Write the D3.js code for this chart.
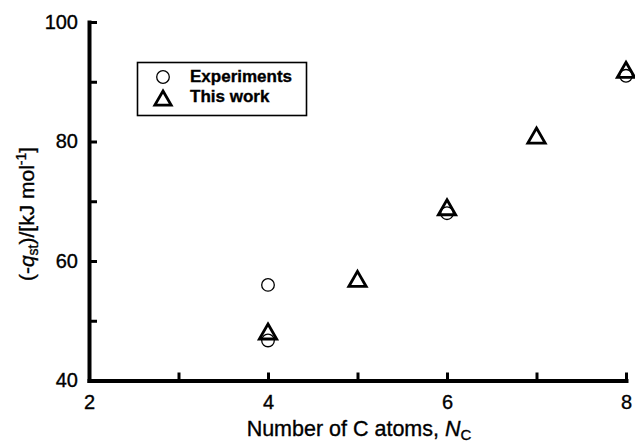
<!DOCTYPE html>
<html>
<head>
<meta charset="utf-8">
<script src="https://cdn.jsdelivr.net/npm/d3@7"></script>
<style>
  html, body { margin: 0; padding: 0; background: #fff; }
  svg { display: block; font-family: "Liberation Sans", Arial, Helvetica, sans-serif; }
  svg text { stroke: #000; stroke-width: 0.35px; }
</style>
</head>
<body>
<svg id="chart" width="635" height="445"></svg>
<script>
// Isosteric heat of adsorption vs. carbon number
const expCarbon = [4, 4, 6, 8];
const expHeat = [56, 46.7, 68, 91];
const calcCarbon = [4, 5, 6, 7, 8];
const calcHeat = [48.2, 57, 69, 81, 92];
const xTicks = [2, 3, 4, 5, 6, 7, 8];
const yTicks = [40, 50, 60, 70, 80, 90, 100];
const legendLabels = ["Experiments", "This work"];

const svg = d3.select("#chart");
const x = d3.scaleLinear().domain([2, 8]).range([89, 626]);
const y = d3.scaleLinear().domain([40, 100]).range([380.5, 22]);

// open triangle centred on its bounding box
const triangle = {
  draw(ctx, size) {
    const w = Math.sqrt(size * 4 / Math.sqrt(3));
    const h = w * Math.sqrt(3) / 2;
    ctx.moveTo(0, -h / 2);
    ctx.lineTo(w / 2, h / 2);
    ctx.lineTo(-w / 2, h / 2);
    ctx.closePath();
  }
};

// axes with inward ticks
const xAxis = d3.axisBottom(x).tickValues(xTicks).tickSizeInner(-8).tickSizeOuter(0)
  .tickPadding(14).tickFormat(d => d % 2 === 0 ? d : "");
const yAxis = d3.axisLeft(y).tickValues(yTicks).tickSizeInner(-8).tickSizeOuter(0)
  .tickPadding(11).tickFormat(d => d % 20 === 0 ? d : "");

const gx = svg.append("g").attr("transform", `translate(0,${y(40)})`).call(xAxis);
const gy = svg.append("g").attr("transform", `translate(${x(2)},0)`).call(yAxis);

[gx, gy].forEach(g => {
  g.select(".domain").attr("stroke", "#000").attr("stroke-width", 4).attr("stroke-linecap", "square");
  g.selectAll(".tick line").attr("stroke", "#000").attr("stroke-width", 3);
  g.selectAll(".tick text").attr("fill", "#000").attr("font-size", 20)
    .attr("font-family", "Liberation Sans, Arial, sans-serif");
});

// axis titles
const xt = svg.append("text")
  .attr("x", 359).attr("y", 436).attr("text-anchor", "middle")
  .attr("font-size", 21.5).attr("fill", "#000");
xt.append("tspan").text("Number of C atoms, ");
xt.append("tspan").attr("font-style", "italic").text("N");
xt.append("tspan").attr("font-size", 15).attr("dy", 4).text("C");

const yt = svg.append("text")
  .attr("transform", "translate(34,214) rotate(-90)")
  .attr("text-anchor", "middle").attr("font-size", 21).attr("fill", "#000");
yt.append("tspan").text("(-");
yt.append("tspan").attr("font-style", "italic").text("q");
yt.append("tspan").attr("font-size", 14).attr("dy", 4).text("st");
yt.append("tspan").attr("dy", -4).text(")/[kJ mol");
yt.append("tspan").attr("font-size", 14).attr("dy", -8).text("-1");
yt.append("tspan").attr("dy", 8).text("]");

// experimental values: open circles
svg.append("g").selectAll("circle")
  .data(expCarbon.map((c, i) => [c, expHeat[i]]))
  .join("circle")
  .attr("cx", d => x(d[0])).attr("cy", d => y(d[1])).attr("r", 6.3)
  .attr("fill", "none").attr("stroke", "#000").attr("stroke-width", 1.3);

// calculated values: open triangles
const triSymbol = d3.symbol().type(triangle).size(130);
svg.append("g").selectAll("path")
  .data(calcCarbon.map((c, i) => [c, calcHeat[i]]))
  .join("path")
  .attr("transform", d => `translate(${x(d[0])},${y(d[1])})`)
  .attr("d", triSymbol)
  .attr("fill", "none").attr("stroke", "#000").attr("stroke-width", 2.8)
  .attr("stroke-linejoin", "miter");

// legend
const lg = svg.append("g");
lg.append("rect").attr("x", 137.5).attr("y", 62.5).attr("width", 169).attr("height", 53)
  .attr("fill", "#fff").attr("stroke", "#000").attr("stroke-width", 1.6);
lg.append("circle").attr("cx", 163).attr("cy", 77).attr("r", 6.3)
  .attr("fill", "none").attr("stroke", "#000").attr("stroke-width", 1.3);
lg.append("path").attr("transform", "translate(163,98)").attr("d", d3.symbol().type(triangle).size(115))
  .attr("fill", "none").attr("stroke", "#000").attr("stroke-width", 2.8);
lg.selectAll("text.lab").data(legendLabels).join("text")
  .attr("class", "lab")
  .attr("x", 190).attr("y", (d, i) => 82 + i * 20)
  .attr("font-size", 17).attr("font-weight", "bold").attr("fill", "#000")
  .text(d => d);
</script>
</body>
</html>
